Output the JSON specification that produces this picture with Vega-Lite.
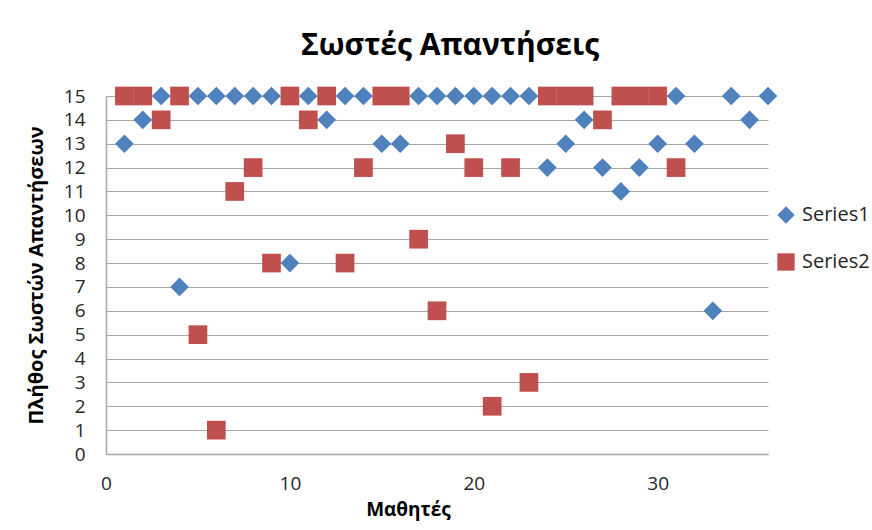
{
  "$schema": "https://vega.github.io/schema/vega-lite/v6.json",
  "autosize": {"type": "none"},
  "width": 662,
  "height": 358,
  "padding": {"left": 106, "top": 96, "right": 104, "bottom": 76},
  "background": "white",
  "config": {
    "font": "Open Sans",
    "view": {"stroke": null},
    "axis": {"labelFont": "Open Sans", "titleFont": "Open Sans"}
  },
  "title": {
    "text": "Σωστές Απαντήσεις",
    "font": "Open Sans",
    "fontSize": 30,
    "fontWeight": "bold",
    "color": "#000000",
    "anchor": "middle",
    "frame": "group",
    "baseline": "alphabetic",
    "offset": 2,
    "dx": 13
  },
  "data": {
    "values": [
      {"x": 1, "y": 13, "series": "Series1"},
      {"x": 2, "y": 14, "series": "Series1"},
      {"x": 3, "y": 15, "series": "Series1"},
      {"x": 4, "y": 7, "series": "Series1"},
      {"x": 5, "y": 15, "series": "Series1"},
      {"x": 6, "y": 15, "series": "Series1"},
      {"x": 7, "y": 15, "series": "Series1"},
      {"x": 8, "y": 15, "series": "Series1"},
      {"x": 9, "y": 15, "series": "Series1"},
      {"x": 10, "y": 8, "series": "Series1"},
      {"x": 11, "y": 15, "series": "Series1"},
      {"x": 12, "y": 14, "series": "Series1"},
      {"x": 13, "y": 15, "series": "Series1"},
      {"x": 14, "y": 15, "series": "Series1"},
      {"x": 15, "y": 13, "series": "Series1"},
      {"x": 16, "y": 13, "series": "Series1"},
      {"x": 17, "y": 15, "series": "Series1"},
      {"x": 18, "y": 15, "series": "Series1"},
      {"x": 19, "y": 15, "series": "Series1"},
      {"x": 20, "y": 15, "series": "Series1"},
      {"x": 21, "y": 15, "series": "Series1"},
      {"x": 22, "y": 15, "series": "Series1"},
      {"x": 23, "y": 15, "series": "Series1"},
      {"x": 24, "y": 12, "series": "Series1"},
      {"x": 25, "y": 13, "series": "Series1"},
      {"x": 26, "y": 14, "series": "Series1"},
      {"x": 27, "y": 12, "series": "Series1"},
      {"x": 28, "y": 11, "series": "Series1"},
      {"x": 29, "y": 12, "series": "Series1"},
      {"x": 30, "y": 13, "series": "Series1"},
      {"x": 31, "y": 15, "series": "Series1"},
      {"x": 32, "y": 13, "series": "Series1"},
      {"x": 33, "y": 6, "series": "Series1"},
      {"x": 34, "y": 15, "series": "Series1"},
      {"x": 35, "y": 14, "series": "Series1"},
      {"x": 36, "y": 15, "series": "Series1"},
      {"x": 1, "y": 15, "series": "Series2"},
      {"x": 2, "y": 15, "series": "Series2"},
      {"x": 3, "y": 14, "series": "Series2"},
      {"x": 4, "y": 15, "series": "Series2"},
      {"x": 5, "y": 5, "series": "Series2"},
      {"x": 6, "y": 1, "series": "Series2"},
      {"x": 7, "y": 11, "series": "Series2"},
      {"x": 8, "y": 12, "series": "Series2"},
      {"x": 9, "y": 8, "series": "Series2"},
      {"x": 10, "y": 15, "series": "Series2"},
      {"x": 11, "y": 14, "series": "Series2"},
      {"x": 12, "y": 15, "series": "Series2"},
      {"x": 13, "y": 8, "series": "Series2"},
      {"x": 14, "y": 12, "series": "Series2"},
      {"x": 15, "y": 15, "series": "Series2"},
      {"x": 16, "y": 15, "series": "Series2"},
      {"x": 17, "y": 9, "series": "Series2"},
      {"x": 18, "y": 6, "series": "Series2"},
      {"x": 19, "y": 13, "series": "Series2"},
      {"x": 20, "y": 12, "series": "Series2"},
      {"x": 21, "y": 2, "series": "Series2"},
      {"x": 22, "y": 12, "series": "Series2"},
      {"x": 23, "y": 3, "series": "Series2"},
      {"x": 24, "y": 15, "series": "Series2"},
      {"x": 25, "y": 15, "series": "Series2"},
      {"x": 26, "y": 15, "series": "Series2"},
      {"x": 27, "y": 14, "series": "Series2"},
      {"x": 28, "y": 15, "series": "Series2"},
      {"x": 29, "y": 15, "series": "Series2"},
      {"x": 30, "y": 15, "series": "Series2"},
      {"x": 31, "y": 12, "series": "Series2"}
    ]
  },
  "mark": {"type": "point", "filled": true, "opacity": 1, "size": 350},
  "encoding": {
    "x": {
      "field": "x",
      "type": "quantitative",
      "scale": {"domain": [0, 36], "nice": false, "zero": true},
      "axis": {
        "title": "Μαθητές",
        "values": [0, 10, 20, 30],
        "grid": false,
        "ticks": false,
        "domainColor": "#a6a6a6",
        "domainWidth": 1.5,
        "labelFontSize": 19,
        "labelColor": "#262626",
        "labelPadding": 20,
        "labelBaseline": "top",
        "labelFlush": false,
        "titleFontSize": 19,
        "titleFontWeight": "bold",
        "titleColor": "#000000",
        "titleX": 302,
        "titleY": 55,
        "titleBaseline": "middle",
        "titleAlign": "center"
      }
    },
    "y": {
      "field": "y",
      "type": "quantitative",
      "scale": {"domain": [0, 15], "nice": false},
      "axis": {
        "title": "Πλήθος Σωστών Απαντήσεων",
        "values": [0, 1, 2, 3, 4, 5, 6, 7, 8, 9, 10, 11, 12, 13, 14, 15],
        "grid": true,
        "gridColor": "#a6a6a6",
        "gridWidth": 1.2,
        "ticks": false,
        "tickSize": 0,
        "domainColor": "#a6a6a6",
        "domainWidth": 1.5,
        "labelFontSize": 19,
        "labelColor": "#262626",
        "labelPadding": 21,
        "labelBaseline": "middle",
        "labelFlush": false,
        "titleFontSize": 20,
        "titleFontWeight": "bold",
        "titleColor": "#000000",
        "titleX": -70,
        "titleY": 179,
        "titleAngle": -90,
        "titleBaseline": "middle",
        "titleAlign": "center"
      }
    },
    "color": {
      "field": "series",
      "type": "nominal",
      "scale": {"domain": ["Series1", "Series2"], "range": ["#4F81BD", "#C0504D"]},
      "legend": {
        "title": null,
        "orient": "none",
        "legendX": 670,
        "legendY": 109,
        "symbolSize": 300,
        "symbolOpacity": 1,
        "symbolStrokeWidth": 0,
        "labelFontSize": 20,
        "labelColor": "#262626",
        "labelOffset": 6,
        "rowPadding": 27
      }
    },
    "shape": {
      "field": "series",
      "type": "nominal",
      "scale": {"domain": ["Series1", "Series2"], "range": ["diamond", "square"]}
    },
    "order": {"field": "series", "sort": "ascending"}
  }
}
